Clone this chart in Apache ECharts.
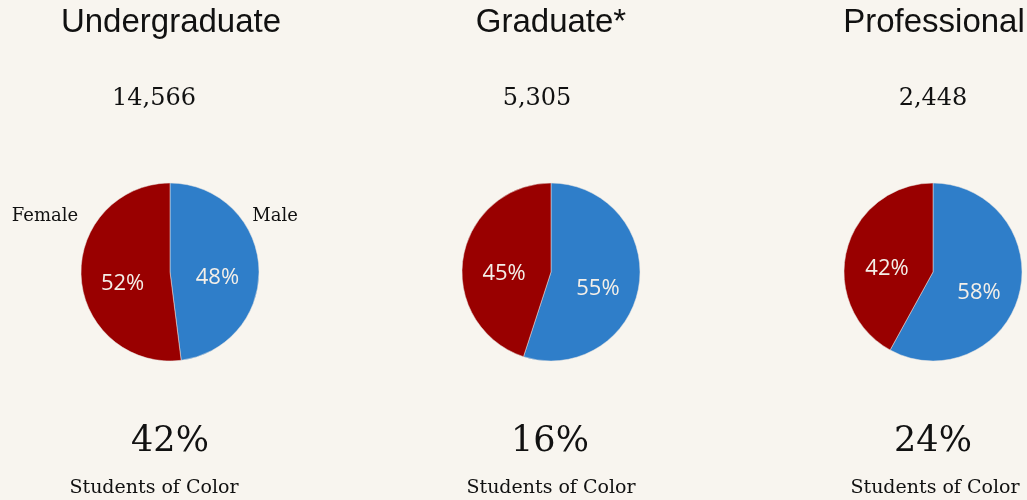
<!DOCTYPE html>
<html>
<head>
<meta charset="utf-8">
<script src="https://cdn.jsdelivr.net/npm/echarts@6/dist/echarts.min.js"></script>
<style>
html,body{margin:0;padding:0;background:#f8f5ef;}
#c{width:1027px;height:500px;}
</style>
</head>
<body>
<div id="c"></div>
<script>
var groups = ['Undergraduate', 'Graduate*', 'Professional'];
var totals = ['14,566', '5,305', '2,448'];
var malePct = [48, 55, 58];
var femalePct = [52, 45, 42];
var colorPct = ['42%', '16%', '24%'];
var colorLabel = 'Students of Color';
var genderNames = ['Male', 'Female'];

var centersX = [171, 551, 934];
var pieX = [170, 551, 933];
var totalX = [154, 537, 933];
var subX = [154, 551, 935];

var chart = echarts.init(document.getElementById('c'));
var titles = [];
var series = [];
var serif = '"DejaVu Serif", serif';
function txt(t, x, y, fam, size) {
  return {text: t, left: x, top: y, textAlign: 'center', padding: 0,
    textStyle: {fontFamily: fam, fontSize: size, fontWeight: 'normal', color: '#111'}};
}
for (var i = 0; i < groups.length; i++) {
  titles.push(txt(groups[i], centersX[i], 6, '"Liberation Sans", Arial, sans-serif', 33));
  titles.push(txt(totals[i], totalX[i], 87, serif, 24));
  titles.push(txt(colorPct[i], centersX[i] - 1, 424, serif, 35));
  titles.push(txt(colorLabel, subX[i], 479, serif, 19));
  series.push({
    type: 'pie',
    center: [pieX[i], 272],
    radius: [0, 89],
    startAngle: 90,
    clockwise: true,
    silent: true,
    itemStyle: {borderColor: '#e8e4e0', borderWidth: 0.5},
    label: {position: 'inner', formatter: '{c}%', color: '#f4efe8',
      fontFamily: '"Open Sans", Lato, sans-serif', fontSize: 22},
    labelLayout: {dy: 9},
    labelLine: {show: false},
    data: [
      {name: genderNames[0], value: malePct[i], itemStyle: {color: '#2f7ec9'}},
      {name: genderNames[1], value: femalePct[i], itemStyle: {color: '#990000'}}
    ]
  });
}
titles.push(txt(genderNames[1], 45, 207, serif, 18));
titles.push(txt(genderNames[0], 275, 207, serif, 18));

chart.setOption({
  backgroundColor: '#f8f5ef',
  animation: false,
  title: titles,
  series: series
});
</script>
</body>
</html>
